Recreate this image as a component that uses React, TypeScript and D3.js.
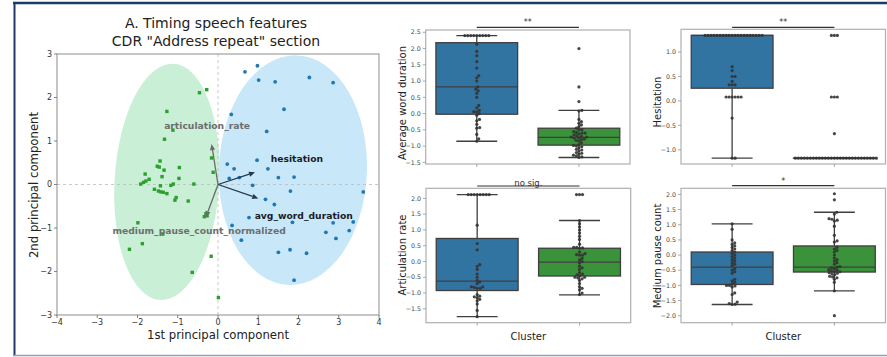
import * as d3 from "d3";

// ---- PCA scatter data ----
const greenPC1 = [-0.46, -0.28, -1.27, -1.12, -1.33, -0.16, -1.44, -1.51, -1.46, -1.34, -0.96, -1.81, -1.39, -0.97, -0.12, -1.71, -1.79, -1.85, -1.92, -1.43, -1.17, -1.11, -0.6, -1.58, -1.48, -1.42, -1.36, -1.27, -1.04, -1.07, -0.74, -0.3, -0.34, -0.27, -1.99, -1.37, -1.88, -2.2, -0.17, -0.64, 0.01];
const greenPC2 = [2.11, 2.18, 1.68, 1.25, 1.04, 0.61, 0.54, 0.42, 0.4, 0.33, 0.39, 0.24, 0.18, 0.14, 0.28, 0.12, 0.08, 0.05, 0.01, -0.03, -0.02, 0.01, 0.01, -0.11, -0.15, -0.17, -0.18, -0.21, -0.3, -0.36, -0.38, -0.67, -0.74, -0.72, -0.88, -1.14, -1.36, -1.49, -1.65, -2.02, -2.6];
const bluePC1 = [0.67, 0.98, 1.01, 1.42, 2.27, 2.86, 1.64, 0.33, 1.21, 0.23, 0.4, 0.97, 1.24, 1.5, 1.89, 0.53, 0.28, 0.86, 1.8, 3.61, 1.18, 1.4, 0.77, 3.36, 1.85, 2.86, 0.35, 3.26, 2.68, 2.93, 0.58, 1.5, 1.79, 2.2, 1.89];
const bluePC2 = [2.59, 2.73, 2.4, 2.36, 2.46, 2.34, 1.73, 1.61, 1.22, 0.47, 0.36, 0.56, 0.36, 0.16, 0.17, 0.16, 0.14, -0.02, -0.15, -0.17, -0.34, -0.46, -0.76, -0.86, -0.87, -0.88, -0.94, -1.06, -1.1, -1.24, -1.28, -1.56, -1.5, -1.58, -2.2];

// cluster ellipses: [green, blue]
const ellipseCx = [-1.27, 1.86];
const ellipseCy = [0.06, 0.33];
const ellipseRx = [1.3, 1.84];
const ellipseRy = [2.72, 2.64];
const ellipseAngle = [3.3, 2.1];

// loading vectors
const loadingNames = ["articulation_rate", "hesitation", "avg_word_duration", "medium_pause_count_normalized"];
const loadingPC1 = [-0.16, 0.92, 1.0, -0.3];
const loadingPC2 = [0.93, 0.28, -0.32, -0.75];
const labelPC1 = [-0.27, 1.96, 2.13, -0.47];
const labelPC2 = [1.34, 0.6, -0.71, -1.07];
const loadingStrong = [false, true, true, false];

const pcaXTicks = [-4, -3, -2, -1, 0, 1, 2, 3, 4];
const pcaYTicks = [-3, -2, -1, 0, 1, 2, 3];

// ---- box plot data ----
const featureNames = ["Average word duration", "Hesitation", "Articulation rate", "Medium pause count"];
const significance = ["**", "**", "no sig.", "*"];

const awdCluster0 = [2.4, 2.4, 2.4, 2.4, 2.4, 2.4, 2.4, 2.4, 2.4, 2.13, 1.91, 1.78, 1.6, 1.4, 1.17, 1.1, 1.0, 0.82, 0.75, 0.7, 0.62, 0.5, 0.25, 0.18, 0.1, 0.06, 0.05, 0.0, -0.05, -0.18, -0.22, -0.33, -0.43, -0.45, -0.64, -0.78, -0.85];
const awdCluster1 = [2.0, 0.82, 0.37, 0.1, 0.08, -0.18, -0.25, -0.3, -0.35, -0.4, -0.45, -0.5, -0.5, -0.55, -0.58, -0.6, -0.6, -0.62, -0.65, -0.68, -0.7, -0.72, -0.72, -0.75, -0.75, -0.78, -0.8, -0.82, -0.85, -0.9, -0.95, -0.98, -1.0, -1.02, -1.05, -1.1, -1.12, -1.15, -1.2, -1.22, -1.25, -1.28, -1.3, -1.33, -1.35];
const hesCluster0 = [1.34, 1.34, 1.34, 1.34, 1.34, 1.34, 1.34, 1.34, 1.34, 1.34, 1.34, 1.34, 1.34, 1.34, 1.34, 1.34, 1.34, 1.34, 1.34, 1.34, 0.7, 0.62, 0.5, 0.5, 0.4, 0.33, 0.33, 0.33, 0.08, 0.08, 0.08, 0.08, 0.08, 0.08, -0.35, -1.17, -1.17];
const hesCluster1 = [1.34, 1.34, 1.34, 0.08, 0.08, 0.08, -0.67, -1.17, -1.17, -1.17, -1.17, -1.17, -1.17, -1.17, -1.17, -1.17, -1.17, -1.17, -1.17, -1.17, -1.17, -1.17, -1.17, -1.17, -1.17, -1.17, -1.17, -1.17, -1.17, -1.17, -1.17, -1.17, -1.17, -1.17, -1.17];
const artCluster0 = [2.12, 2.12, 2.12, 2.12, 2.12, 2.12, 2.12, 2.12, 1.15, 0.57, 0.37, -0.1, -0.15, -0.25, -0.4, -0.5, -0.6, -0.65, -0.7, -0.8, -0.8, -0.82, -0.85, -0.85, -1.05, -1.1, -1.12, -1.15, -1.2, -1.25, -1.35, -1.55, -1.75];
const artCluster1 = [2.12, 2.12, 2.12, 1.3, 1.2, 1.1, 1.0, 0.9, 0.8, 0.7, 0.55, 0.45, 0.45, 0.43, 0.42, 0.3, 0.25, 0.22, 0.2, 0.2, 0.1, 0.05, 0.0, -0.05, -0.15, -0.2, -0.25, -0.35, -0.4, -0.42, -0.45, -0.5, -0.5, -0.52, -0.55, -0.6, -0.7, -0.8, -0.85, -0.9, -1.0, -1.05];
const mpcCluster0 = [1.03, 0.85, 0.5, 0.4, 0.35, 0.3, 0.25, 0.2, 0.15, 0.1, 0.05, 0.0, -0.05, -0.1, -0.15, -0.2, -0.25, -0.3, -0.35, -0.45, -0.5, -0.55, -0.6, -0.8, -0.85, -0.9, -0.95, -1.0, -1.0, -1.02, -1.05, -1.25, -1.3, -1.55, -1.6, -1.62, -1.63];
const mpcCluster1 = [2.02, 1.82, 1.41, 1.35, 1.2, 1.18, 1.15, 1.12, 0.95, 0.65, 0.47, 0.43, 0.25, 0.2, 0.15, 0.1, 0.0, -0.1, -0.15, -0.2, -0.25, -0.3, -0.38, -0.4, -0.42, -0.45, -0.48, -0.5, -0.52, -0.55, -0.55, -0.58, -0.6, -0.62, -0.65, -0.7, -0.72, -0.75, -0.8, -0.9, -1.18, -2.0];

// box stats per feature: [cluster0, cluster1]
const boxQ1 = [[-0.02, -0.97], [0.26, -1.17], [-0.92, -0.46], [-0.97, -0.56]];
const boxMedian = [[0.82, -0.73], [1.34, -1.17], [-0.62, -0.02], [-0.4, -0.4]];
const boxQ3 = [[2.18, -0.45], [1.34, -1.17], [0.73, 0.42], [0.1, 0.3]];
const boxLow = [[-0.85, -1.35], [-1.17, -1.17], [-1.75, -1.06], [-1.63, -1.18]];
const boxHigh = [[2.4, 0.1], [1.34, -1.17], [2.12, 1.3], [1.03, 1.41]];

const swarmValues = [[awdCluster0, awdCluster1], [hesCluster0, hesCluster1], [artCluster0, artCluster1], [mpcCluster0, mpcCluster1]];
const yTicks = [
  [-1.5, -1.0, -0.5, 0.0, 0.5, 1.0, 1.5, 2.0, 2.5],
  [-1.0, -0.5, 0.0, 0.5, 1.0],
  [-1.5, -1.0, -0.5, 0.0, 0.5, 1.0, 1.5, 2.0],
  [-2.0, -1.5, -1.0, -0.5, 0.0, 0.5, 1.0, 1.5, 2.0],
];

// panel layout
const panels = [
  { left: 425.7, right: 630, top: 30, bottom: 164, y0: -1.55, y1: 2.57, ylabX: 406, ylabY: 103, sigY: 27.3 },
  { left: 681, right: 885.5, top: 29.3, bottom: 164, y0: -1.29, y1: 1.465, ylabX: 660.5, ylabY: 102, sigY: 27.3 },
  { left: 426, right: 630.7, top: 188.3, bottom: 322.7, y0: -1.94, y1: 2.32, ylabX: 406, ylabY: 255, sigY: 186 },
  { left: 681, right: 885.5, top: 188.3, bottom: 322.7, y0: -2.23, y1: 2.2, ylabX: 660.5, ylabY: 256, sigY: 185.7 },
];

const FONT = "DejaVu Sans";
const boxColors = ["#3274a1", "#3a923a"];
const minus = (s: string) => s.replace("-", "\u2212");

// simple beeswarm: each point takes the free slot closest to the centre line
function swarm(values: number[], y: (v: number) => number, d: number): number[] {
  const placed: { x: number; y: number }[] = [];
  const out: number[] = new Array(values.length).fill(0);
  const order = d3.range(values.length).sort((a, b) => values[a] - values[b]);
  for (const i of order) {
    const py = y(values[i]);
    const cands = [0];
    for (const p of placed) {
      const dy = Math.abs(p.y - py);
      if (dy < d) {
        const dx = Math.sqrt(d * d - dy * dy);
        cands.push(p.x + dx, p.x - dx);
      }
    }
    cands.sort((a, b) => Math.abs(a) - Math.abs(b));
    let best = 0;
    for (const c of cands) {
      if (placed.every((p) => (p.x - c) ** 2 + (p.y - py) ** 2 >= d * d - 0.01)) {
        best = c;
        break;
      }
    }
    placed.push({ x: best, y: py });
    out[i] = best;
  }
  return out;
}

function PcaPanel() {
  const x = d3.scaleLinear().domain([-4, 4]).range([57, 379]);
  const y = d3.scaleLinear().domain([-3, 3]).range([315, 54]);
  const kx = x(1) - x(0);
  const ky = y(0) - y(1);
  const fills = ["#c9efd7", "#c8e8f9"];

  return (
    <g>
      <text x={216} y={28} textAnchor="middle" fontFamily={FONT} fontSize={14} fill="#222">A. Timing speech features</text>
      <text x={216} y={46} textAnchor="middle" fontFamily={FONT} fontSize={14} fill="#222">CDR "Address repeat" section</text>

      {ellipseCx.map((cx, i) => (
        <ellipse key={i} cx={x(cx)} cy={y(ellipseCy[i])} rx={ellipseRx[i] * kx} ry={ellipseRy[i] * ky}
          transform={`rotate(${ellipseAngle[i]} ${x(cx)} ${y(ellipseCy[i])})`} fill={fills[i]} />
      ))}

      <line x1={x(-4)} x2={x(4)} y1={y(0)} y2={y(0)} stroke="#bbb" strokeWidth={0.8} strokeDasharray="3,3" />
      <line x1={x(0)} x2={x(0)} y1={y(3)} y2={y(-3)} stroke="#bbb" strokeWidth={0.8} strokeDasharray="3,3" />

      {greenPC1.map((v, i) => (
        <rect key={"g" + i} x={x(v) - 1.7} y={y(greenPC2[i]) - 1.7} width={3.4} height={3.4} fill="#2ca02c" />
      ))}
      {bluePC1.map((v, i) => (
        <circle key={"b" + i} cx={x(v)} cy={y(bluePC2[i])} r={1.9} fill="#1f77b4" />
      ))}

      {loadingNames.map((name, i) => {
        const x2 = x(loadingPC1[i]);
        const y2 = y(loadingPC2[i]);
        const x1 = x(0);
        const y1 = y(0);
        const ang = Math.atan2(y2 - y1, x2 - x1);
        const L = 6;
        const W = 2.6;
        const bx = x2 - L * Math.cos(ang);
        const by = y2 - L * Math.sin(ang);
        const col = loadingStrong[i] ? "#26364a" : "#6b6b6b";
        const head = [
          [x2, y2],
          [bx + W * Math.sin(ang), by - W * Math.cos(ang)],
          [bx - W * Math.sin(ang), by + W * Math.cos(ang)],
        ];
        return (
          <g key={name}>
            <line x1={x1} y1={y1} x2={bx} y2={by} stroke={col} strokeWidth={1.3} />
            <polygon points={head.map((p) => p.join(",")).join(" ")} fill={col} />
            <text x={x(labelPC1[i])} y={y(labelPC2[i])} dy="0.35em" textAnchor="middle" fontFamily={FONT}
              fontWeight="bold" fontSize={9.2} fill={loadingStrong[i] ? "#1c1c28" : "#6e6e6e"}>{name}</text>
          </g>
        );
      })}

      <rect x={x(-4)} y={y(3)} width={x(4) - x(-4)} height={y(-3) - y(3)} fill="none" stroke="#a0a0a0" strokeWidth={1.2} />

      {pcaXTicks.map((t) => (
        <g key={"xt" + t}>
          <line x1={x(t)} x2={x(t)} y1={y(-3)} y2={y(-3) + 3} stroke="#666" strokeWidth={0.8} />
          <text x={x(t)} y={324.5} textAnchor="middle" fontFamily={FONT} fontSize={8} fill="#333">{minus(String(t))}</text>
        </g>
      ))}
      {pcaYTicks.map((t) => (
        <g key={"yt" + t}>
          <line x1={x(-4) - 3} x2={x(-4)} y1={y(t)} y2={y(t)} stroke="#666" strokeWidth={0.8} />
          <text x={52} y={y(t)} dy="0.35em" textAnchor="end" fontFamily={FONT} fontSize={8} fill="#333">{minus(String(t))}</text>
        </g>
      ))}
      <text x={218} y={338.5} textAnchor="middle" fontFamily={FONT} fontSize={11.7} fill="#222">1st principal component</text>
      <text transform={`translate(38,185) rotate(-90)`} textAnchor="middle" fontFamily={FONT} fontSize={11.7} fill="#222">2nd principal component</text>
    </g>
  );
}

function BoxPanel({ idx }: { idx: number }) {
  const p = panels[idx];
  const x = d3.scaleLinear().domain([-0.5, 1.5]).range([p.left, p.right]);
  const y = d3.scaleLinear().domain([p.y0, p.y1]).range([p.bottom, p.top]);
  const bw = x(0.4) - x(0);
  const edge = "#3f3f3f";
  const fmt = d3.format(".1f");

  return (
    <g>
      {[0, 1].map((c) => {
        const cx = x(c);
        const q1 = y(boxQ1[idx][c]);
        const q3 = y(boxQ3[idx][c]);
        return (
          <g key={c}>
            <line x1={cx} x2={cx} y1={y(boxLow[idx][c])} y2={q1} stroke={edge} strokeWidth={1.3} />
            <line x1={cx} x2={cx} y1={y(boxHigh[idx][c])} y2={q3} stroke={edge} strokeWidth={1.3} />
            <line x1={cx - bw / 2} x2={cx + bw / 2} y1={y(boxLow[idx][c])} y2={y(boxLow[idx][c])} stroke={edge} strokeWidth={1.3} />
            <line x1={cx - bw / 2} x2={cx + bw / 2} y1={y(boxHigh[idx][c])} y2={y(boxHigh[idx][c])} stroke={edge} strokeWidth={1.3} />
            <rect x={cx - bw} y={q3} width={2 * bw} height={Math.max(q1 - q3, 0.01)} fill={boxColors[c]} stroke={edge} strokeWidth={1.3} />
            <line x1={cx - bw} x2={cx + bw} y1={y(boxMedian[idx][c])} y2={y(boxMedian[idx][c])} stroke={edge} strokeWidth={1.3} />
          </g>
        );
      })}
      {[0, 1].map((c) => {
        const vals = swarmValues[idx][c];
        const offs = swarm(vals, (v) => y(v), 3.0);
        return vals.map((v, i) => (
          <circle key={c + "-" + i} cx={x(c) + offs[i]} cy={y(v)} r={1.6} fill="#333" fillOpacity={0.9} />
        ));
      })}
      <rect x={p.left} y={p.top} width={p.right - p.left} height={p.bottom - p.top} fill="none" stroke="#b0b0b0" strokeWidth={1.2} />
      {yTicks[idx].map((t) => (
        <g key={t}>
          <line x1={p.left - 3} x2={p.left} y1={y(t)} y2={y(t)} stroke="#888" strokeWidth={0.7} />
          <text x={p.left - 5} y={y(t)} dy="0.35em" textAnchor="end" fontFamily={FONT} fontSize={6.3} fill="#444">{minus(fmt(t))}</text>
        </g>
      ))}
      {[0, 1].map((c) => (
        <line key={"xt" + c} x1={x(c)} x2={x(c)} y1={p.bottom} y2={p.bottom + 3} stroke="#888" strokeWidth={0.7} />
      ))}
      <line x1={x(0)} x2={x(1)} y1={p.sigY} y2={p.sigY} stroke="#333" strokeWidth={1.2} />
      <text x={(x(0) + x(1)) / 2} y={p.sigY - (significance[idx] === "no sig." ? 0.5 : 2)} textAnchor="middle" fontFamily={FONT}
        fontSize={significance[idx] === "no sig." ? 8.5 : 8} fill="#333">{significance[idx]}</text>
      <text transform={`translate(${p.ylabX},${p.ylabY}) rotate(-90)`} textAnchor="middle" fontFamily={FONT} fontSize={10} fill="#222">{featureNames[idx]}</text>
      {idx >= 2 && (
        <text x={(p.left + p.right) / 2} y={340} textAnchor="middle" fontFamily={FONT} fontSize={10} fill="#222">Cluster</text>
      )}
    </g>
  );
}

export default function App() {
  return (
    <svg width={887} height={357} style={{ position: "absolute", left: 0, top: 0, background: "#fff" }}>
      <rect width={887} height={357} fill="#fff" />
      <PcaPanel />
      {[0, 1, 2, 3].map((i) => (
        <BoxPanel key={i} idx={i} />
      ))}
      <line x1={13} x2={887} y1={3} y2={3} stroke="#1f3a68" strokeWidth={2.5} />
      <line x1={14.5} x2={14.5} y1={2} y2={356} stroke="#1f3a68" strokeWidth={2} />
      <line x1={13} x2={887} y1={355.5} y2={355.5} stroke="#8ea0c4" strokeWidth={1.5} />
    </svg>
  );
}
